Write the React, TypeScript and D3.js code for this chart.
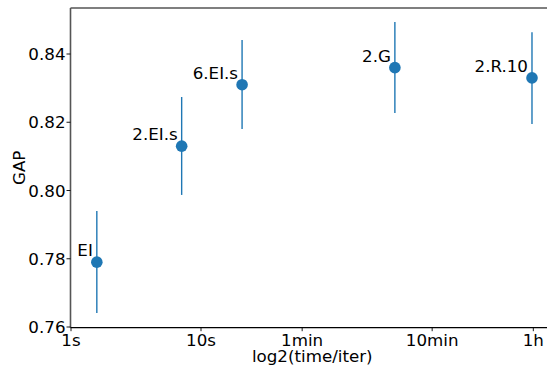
import React from "react";
import * as d3 from "d3";

const labels = ["EI", "2.EI.s", "6.EI.s", "2.G", "2.R.10"];
const timesSec = [1.58, 7.1, 20.7, 310, 3516];
const gapMean = [0.779, 0.813, 0.831, 0.836, 0.833];
const gapLow = [0.7641, 0.7987, 0.818, 0.8227, 0.8195];
const gapHigh = [0.794, 0.8274, 0.8441, 0.8494, 0.8464];
const xTickValues = [1, 10, 60, 600, 3600];
const xTickLabels = ["1s", "10s", "1min", "10min", "1h"];
const yTickValues = [0.76, 0.78, 0.8, 0.82, 0.84];

const W = 547;
const H = 366;
const FONT = "DejaVu Sans, sans-serif";
const FS = 16.7;
const BLUE = "#1f77b4";

export default function App() {
  const left = 70.5;
  const top = 8;
  const bottom = 327.7;
  const right = 554;
  const x = d3.scaleLog().domain([1, 3600]).range([71, 71 + 130 * Math.log10(3600)]);
  const y = d3.scaleLinear().domain([0.76, 0.84]).range([327, 54]);
  const fmt = d3.format(".2f");

  return (
    <svg
      width={W}
      height={H}
      style={{ position: "absolute", left: 0, top: 0, background: "#fff" }}
      fontFamily={FONT}
    >
      {/* spines */}
      <line x1={left} x2={right} y1={top} y2={top} stroke="#555" strokeWidth={1.6} />
      <line x1={left} x2={left} y1={top} y2={bottom} stroke="#555" strokeWidth={1.6} />
      <line x1={left} x2={right} y1={bottom} y2={bottom} stroke="#000" strokeWidth={1.2} />

      {/* y ticks */}
      {yTickValues.map((v) => (
        <g key={v}>
          <line x1={left - 4} x2={left} y1={y(v)} y2={y(v)} stroke="#000" strokeWidth={0.9} />
          <text x={left - 5} y={y(v)} dy="0.36em" textAnchor="end" fontSize={FS} fill="#000">
            {fmt(v)}
          </text>
        </g>
      ))}

      {/* x ticks */}
      {xTickValues.map((v, i) => (
        <g key={v}>
          <line x1={x(v)} x2={x(v)} y1={bottom} y2={bottom + 3.5} stroke="#000" strokeWidth={0.9} />
          <text x={x(v)} y={bottom + 18} textAnchor="middle" fontSize={FS} fill="#000">
            {xTickLabels[i]}
          </text>
        </g>
      ))}

      {/* axis labels */}
      <text x={(left + right) / 2} y={362} textAnchor="middle" fontSize={FS} fill="#000">
        log2(time/iter)
      </text>
      <text
        transform={`translate(24.5, ${(top + bottom) / 2}) rotate(-90)`}
        textAnchor="middle"
        fontSize={FS}
        fill="#000"
      >
        GAP
      </text>

      {/* error bars and points */}
      {labels.map((lab, i) => {
        const cx = x(timesSec[i]);
        const cy = y(gapMean[i]);
        return (
          <g key={lab}>
            <line x1={cx} x2={cx} y1={y(gapLow[i])} y2={y(gapHigh[i])} stroke={BLUE} strokeWidth={1.4} />
            <circle cx={cx} cy={cy} r={5.8} fill={BLUE} />
            <text x={cx - 4} y={cy - 6} textAnchor="end" fontSize={FS} fill="#000">
              {lab}
            </text>
          </g>
        );
      })}
    </svg>
  );
}
